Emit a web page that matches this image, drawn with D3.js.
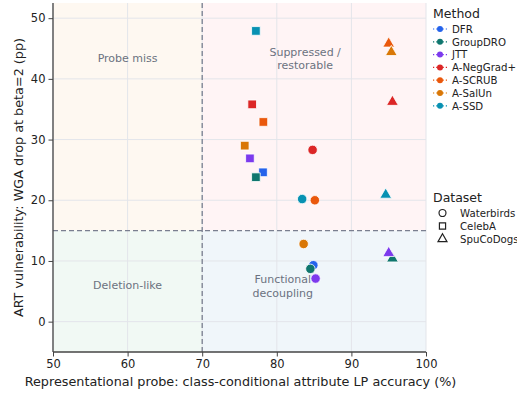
<!doctype html>
<html>
<head>
<meta charset="UTF-8">
<script src="https://d3js.org/d3.v7.min.js"></script>
<style>
  body { margin: 0; background: #fff; }
  text { font-family: "DejaVu Sans", sans-serif; }
</style>
</head>
<body>
<svg id="chart" width="517" height="394"></svg>
<script>
// methods and their colours
var methods = ["DFR", "GroupDRO", "JTT", "A-NegGrad+", "A-SCRUB", "A-SalUn", "A-SSD"];
var colors  = ["#2563eb", "#0f766e", "#7c3aed", "#dc2626", "#ea580c", "#d97706", "#0891b2"];
var datasets = ["Waterbirds", "CelebA", "SpuCoDogs"];

// probe accuracy (x) and WGA drop (y), one value per method, per dataset
var wbProbe  = [84.9, 84.5, 85.2, 84.8, 85.1, 83.6, 83.4];
var wbDrop   = [9.3, 8.7, 7.1, 28.3, 20.0, 12.8, 20.2];
var cbProbe  = [78.15, 77.2, 76.4, 76.7, 78.2, 75.7, 77.2];
var cbDrop   = [24.6, 23.8, 26.9, 35.8, 32.9, 29.0, 47.9];
var spProbe  = [95.0, 95.5, 95.0, 95.5, 95.0, 95.35, 94.6];
var spDrop   = [11.2, 10.4, 11.3, 36.2, 45.8, 44.4, 20.9];

var xTicks = [50, 60, 70, 80, 90, 100];
var yTicks = [0, 10, 20, 30, 40, 50];
var probeCut = 70, dropCut = 15;

var svg = d3.select("#chart");
var L = 53, R = 426, T = 3, B = 352;
var x = d3.scaleLinear().domain([50, 100]).range([L, R]);
var y = d3.scaleLinear().domain([-5, 52.5]).range([B, T]);

// quadrant shading
var quads = [
  {x0: 50, x1: probeCut, y0: dropCut, y1: 52.5, fill: "#fef8f1"},
  {x0: probeCut, x1: 100, y0: dropCut, y1: 52.5, fill: "#fff4f5"},
  {x0: 50, x1: probeCut, y0: -5, y1: dropCut, fill: "#f1f9f4"},
  {x0: probeCut, x1: 100, y0: -5, y1: dropCut, fill: "#f0f6fa"}
];
svg.selectAll("rect.q").data(quads).enter().append("rect")
  .attr("x", function(d){ return x(d.x0); })
  .attr("y", function(d){ return y(d.y1); })
  .attr("width", function(d){ return x(d.x1) - x(d.x0); })
  .attr("height", function(d){ return y(d.y0) - y(d.y1); })
  .attr("fill", function(d){ return d.fill; });

// grid
svg.selectAll("line.gx").data(xTicks).enter().append("line")
  .attr("x1", function(d){ return x(d); }).attr("x2", function(d){ return x(d); })
  .attr("y1", T).attr("y2", B)
  .attr("stroke", "#e3e5ea").attr("stroke-width", 1);
svg.selectAll("line.gy").data(yTicks).enter().append("line")
  .attr("x1", L).attr("x2", R)
  .attr("y1", function(d){ return y(d); }).attr("y2", function(d){ return y(d); })
  .attr("stroke", "#e3e5ea").attr("stroke-width", 1);

// threshold lines
svg.append("line")
  .attr("x1", x(probeCut)).attr("x2", x(probeCut)).attr("y1", T).attr("y2", B)
  .attr("stroke", "#7a7f90").attr("stroke-width", 1.3).attr("stroke-dasharray", "5,3");
svg.append("line")
  .attr("x1", L).attr("x2", R).attr("y1", y(dropCut)).attr("y2", y(dropCut))
  .attr("stroke", "#7a7f90").attr("stroke-width", 1.3).attr("stroke-dasharray", "5,3");

// quadrant labels
var qLabels = [
  {x: 60, y: 43.5, lines: ["Probe miss"]},
  {x: 83.8, y: 43.5, lines: ["Suppressed /", "restorable"]},
  {x: 60, y: 6, lines: ["Deletion-like"]},
  {x: 80.8, y: 6, lines: ["Functional", "decoupling"]}
];
qLabels.forEach(function(q){
  var t = svg.append("text")
    .attr("x", x(q.x)).attr("y", y(q.y) + 4 - (q.lines.length - 1) * 6)
    .attr("text-anchor", "middle").attr("font-size", 11).attr("fill", "#6b7280");
  q.lines.forEach(function(s, i){
    t.append("tspan").attr("x", x(q.x)).attr("dy", i ? 13.5 : 0).text(s);
  });
});

// axes
var xAxis = svg.append("g").attr("transform", "translate(0," + B + ")")
  .call(d3.axisBottom(x).tickValues(xTicks).tickSize(4.5).tickPadding(3));
var yAxis = svg.append("g").attr("transform", "translate(" + L + ",0)")
  .call(d3.axisLeft(y).tickValues(yTicks).tickSize(4.5).tickPadding(3));
[xAxis, yAxis].forEach(function(a){
  a.selectAll("path").attr("stroke", "#444").attr("stroke-width", 1.3);
  a.selectAll("line").attr("stroke", "#444");
  a.selectAll("text").attr("font-size", 11.5).attr("fill", "#222")
    .attr("font-family", "DejaVu Sans, sans-serif");
});
xAxis.select(".domain").attr("d", "M" + L + ",0H" + R);
yAxis.select(".domain").attr("d", "M0," + B + "V" + T);

svg.append("text").attr("x", (L + R) / 2 + 1).attr("y", 386)
  .attr("text-anchor", "middle").attr("font-size", 12.8).attr("fill", "#222")
  .text("Representational probe: class-conditional attribute LP accuracy (%)");
svg.append("text").attr("transform", "translate(23," + ((T + B) / 2) + ") rotate(-90)")
  .attr("text-anchor", "middle").attr("font-size", 12.8).attr("fill", "#222")
  .text("ART vulnerability: WGA drop at beta=2 (pp)");

// points
var shapes = [d3.symbolCircle, d3.symbolSquare, d3.symbolTriangle];
var sizes = [70, 75, 60];
var pts = [];
[[wbProbe, wbDrop], [cbProbe, cbDrop], [spProbe, spDrop]].forEach(function(ds, k){
  methods.forEach(function(m, i){
    pts.push({px: ds[0][i], dy: ds[1][i], c: colors[i], k: k});
  });
});
svg.selectAll("path.pt").data(pts).enter().append("path")
  .attr("transform", function(d){ return "translate(" + x(d.px) + "," + y(d.dy) + ")"; })
  .attr("d", function(d){ return d3.symbol().type(shapes[d.k]).size(sizes[d.k])(); })
  .attr("fill", function(d){ return d.c; })
  .attr("stroke", "#fff").attr("stroke-width", 0.8);

// legend: methods
svg.append("text").attr("x", 433).attr("y", 18).attr("font-size", 12.5).attr("fill", "#222").text("Method");
methods.forEach(function(m, i){
  var yy = 29 + i * 12.8;
  svg.append("line").attr("x1", 433).attr("x2", 447).attr("y1", yy).attr("y2", yy)
    .attr("stroke", colors[i]).attr("stroke-width", 1.2).attr("stroke-dasharray", "1.2,2");
  svg.append("circle").attr("cx", 440).attr("cy", yy).attr("r", 3).attr("fill", colors[i]);
  svg.append("text").attr("x", 452).attr("y", yy + 3.7).attr("font-size", 10.2).attr("fill", "#222").text(m);
});

// legend: datasets
svg.append("text").attr("x", 433).attr("y", 202).attr("font-size", 12.5).attr("fill", "#222").text("Dataset");
datasets.forEach(function(n, i){
  var yy = 213 + i * 13;
  svg.append("path").attr("transform", "translate(442.5," + yy + ")")
    .attr("d", d3.symbol().type(shapes[i]).size(i === 2 ? 35 : 38)())
    .attr("fill", "none").attr("stroke", "#222").attr("stroke-width", 1.2);
  svg.append("text").attr("x", 460).attr("y", yy + 3.7).attr("font-size", 10.2).attr("fill", "#222").text(n);
});
</script>
</body>
</html>
